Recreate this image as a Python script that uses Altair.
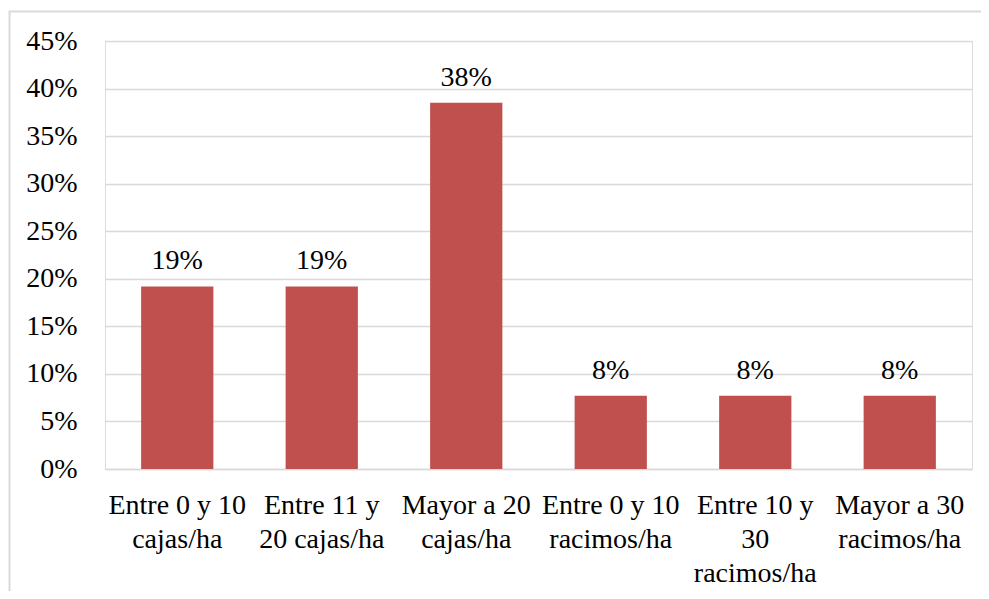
import altair as alt
import pandas as pd

categories = [
    "Entre 0 y 10|cajas/ha",
    "Entre 11 y|20 cajas/ha",
    "Mayor a 20|cajas/ha",
    "Entre 0 y 10|racimos/ha",
    "Entre 10 y|30|racimos/ha",
    "Mayor a 30|racimos/ha",
]
values = [0.192, 0.192, 0.385, 0.077, 0.077, 0.077]
value_labels = ["19%", "19%", "38%", "8%", "8%", "8%"]

df = pd.DataFrame({"cat": categories, "val": values, "lab": value_labels})

FONT = "Liberation Serif"
GRID = "#D9D9D9"

x_enc = alt.X(
    "cat:N",
    sort=categories,
    title=None,
    scale=alt.Scale(paddingInner=0.5, paddingOuter=0.25),
    axis=alt.Axis(
        labelExpr="split(datum.label, '|')",
        labelAngle=0,
        labelFont=FONT,
        labelFontSize=28,
        labelColor="#000000",
        labelLineHeight=34,
        labelPadding=22,
        labelLimit=400,
        ticks=False,
        domainColor=GRID,
        domainWidth=1.5,
    ),
)

y_enc = alt.Y(
    "val:Q",
    title=None,
    scale=alt.Scale(domain=[0, 0.45], nice=False),
    axis=alt.Axis(
        format=".0%",
        values=[i * 0.05 for i in range(10)],
        labelFont=FONT,
        labelFontSize=28,
        labelColor="#000000",
        labelPadding=28,
        ticks=False,
        domain=False,
        gridColor=GRID,
        gridWidth=1.5,
    ),
)

bars = alt.Chart(df).mark_bar(color="#C0504D").encode(x=x_enc, y=y_enc)

text = alt.Chart(df).mark_text(
    font=FONT, fontSize=28, color="#000000", baseline="alphabetic", dy=-17
).encode(x=alt.X("cat:N", sort=categories), y="val:Q", text="lab:N")

border = alt.Chart(pd.DataFrame({"a": [0]})).mark_rect(
    fill=None, stroke=GRID, strokeWidth=2, clip=False
).encode(
    x=alt.value(-95.5), x2=alt.value(895), y=alt.value(-29.5), y2=alt.value(579)
)

chart = (
    alt.layer(bars, text, border)
    .properties(
        width=867,
        height=428,
        autosize=alt.AutoSizeParams(type="none"),
        padding={"left": 97, "top": 33, "right": 9, "bottom": 122},
    )
    .configure_view(stroke=None)
    .configure(background="white")
)

chart.save("out.html", embed_options={"renderer": "svg", "actions": False})
